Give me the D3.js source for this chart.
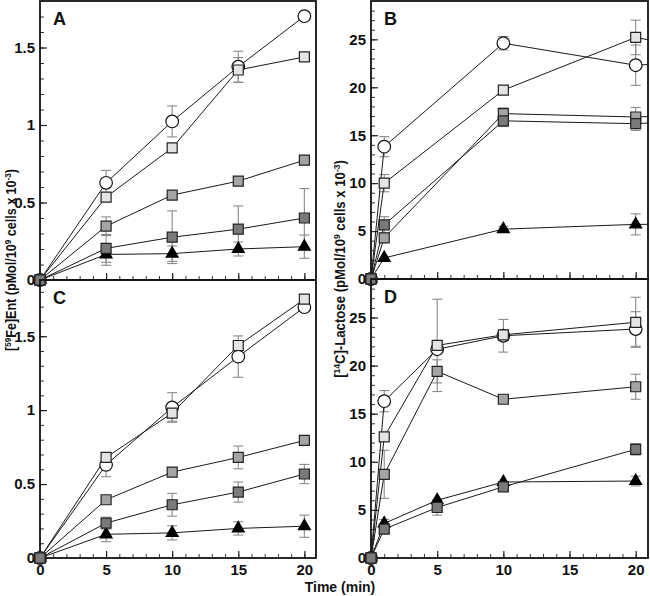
<!DOCTYPE html>
<html><head><meta charset="utf-8">
<script src="https://cdn.jsdelivr.net/npm/d3@7"></script>
<style>
body{margin:0;background:#fff}
svg{display:block}
text{font-family:"Liberation Sans Narrow","Arial Narrow","Liberation Sans",Arial,sans-serif;font-weight:bold;fill:#111}
</style>
</head><body>
<svg id="chart" width="650" height="596"></svg>
<script>
// ---------- data ----------
const timesAC = [0, 5, 10, 15, 20];
const timesB  = [0, 1, 10, 20, 30];
const timesD  = [0, 1, 5, 10, 20];

const seriesKeys = ["circle", "lightSquare", "graySquare", "darkSquare", "triangle"];

// Panel A: [59Fe]Ent
const aCircle = [0, 0.627, 1.023, 1.376, 1.702];
const aLight  = [0, 0.535, 0.852, 1.355, 1.439];
const aGray   = [0, 0.347, 0.548, 0.638, 0.773];
const aDark   = [0, 0.204, 0.276, 0.328, 0.400];
const aTri    = [0, 0.165, 0.170, 0.200, 0.215];
const aCircleErr = [0, 0.08, 0.10, 0.10, 0];
const aLightErr  = [0, 0, 0, 0.08, 0];
const aGrayErr   = [0, 0.06, 0, 0, 0];
const aDarkErr   = [0, 0.09, 0.17, 0.15, 0.19];
const aTriErr    = [0, 0.07, 0.05, 0.045, 0.075];

// Panel B: [14C]-Lactose
const bCircle = [0, 13.8, 24.6, 22.3, 23.1];
const bLight  = [0, 10.0, 19.7, 25.2, 22.6];
const bGray   = [0, 4.3, 17.25, 16.9, 17.4];
const bDark   = [0, 5.65, 16.5, 16.2, 16.9];
const bTri    = [0, 2.2, 5.2, 5.7, 5.7];
const bCircleErr = [0, 1.05, 0.7, 2.1, 0];
const bLightErr  = [0, 0.9, 0, 1.8, 0];
const bGrayErr   = [0, 0, 0.6, 1.0, 0];
const bDarkErr   = [0, 0.85, 0.6, 0.7, 0];
const bTriErr    = [0, 0, 0.3, 1.1, 0];

// Panel C: [59Fe]Ent
const cCircle = [0, 0.630, 1.018, 1.362, 1.696];
const cLight  = [0, 0.680, 0.980, 1.437, 1.750];
const cGray   = [0, 0.394, 0.581, 0.680, 0.795];
const cDark   = [0, 0.236, 0.360, 0.446, 0.568];
const cTri    = [0, 0.160, 0.170, 0.200, 0.215];
const cCircleErr = [0, 0.08, 0.10, 0.14, 0];
const cLightErr  = [0, 0, 0.055, 0, 0];
const cGrayErr   = [0, 0, 0, 0.077, 0];
const cDarkErr   = [0, 0.04, 0.077, 0.068, 0.065];
const cTriErr    = [0, 0.05, 0.048, 0.045, 0.075];

// Panel D: [14C]-Lactose
const dCircle = [0, 16.3, 21.7, 23.1, 23.8];
const dLight  = [0, 12.6, 22.1, 23.2, 24.5];
const dGray   = [0, 8.7, 19.4, 16.5, 17.8];
const dDark   = [0, 3.0, 5.25, 7.4, 11.3];
const dTri    = [0, 3.6, 6.0, 7.9, 8.0];
const dCircleErr = [0, 1.1, 0, 1.7, 1.8];
const dLightErr  = [0, 0, 4.8, 0, 2.6];
const dGrayErr   = [0, 2.5, 1.2, 0, 1.3];
const dDarkErr   = [0, 0, 0.8, 0, 0.6];
const dTriErr    = [0, 0.4, 0, 0, 0.5];

const xMajorTicks = [0, 5, 10, 15, 20];
const xMinorTicks = d3.range(0, 21, 1);
const feMajorTicks = [0, 0.5, 1, 1.5];
const feMinorTicks = d3.range(0, 19).map(i => +(i * 0.1).toFixed(1));
const lacMajorTicks = [0, 5, 10, 15, 20, 25];
const lacMinorTicks = d3.range(0, 29, 1);

const panelLetters = ["A", "B", "C", "D"];
const xTitle = "Time (min)";

// ---------- styles ----------
const styles = {
  circle:      {shape: d3.symbolCircle,   size: 125, fill: "#ffffff", stroke: "#111"},
  lightSquare: {shape: d3.symbolSquare,   size: 100, fill: "#e4e4e4", stroke: "#222"},
  graySquare:  {shape: d3.symbolSquare,   size: 100, fill: "#a4a4a4", stroke: "#222"},
  darkSquare:  {shape: d3.symbolSquare,   size: 100, fill: "#7a7a7a", stroke: "#222"},
  triangle:    {shape: d3.symbolTriangle, size: 62,  fill: "#000000", stroke: "#000"}
};
const drawOrder = ["triangle", "circle", "lightSquare", "graySquare", "darkSquare"];

const panels = [
  {letter: panelLetters[0], times: timesAC,
   vals: [aCircle, aLight, aGray, aDark, aTri], errs: [aCircleErr, aLightErr, aGrayErr, aDarkErr, aTriErr],
   x0: 40, x1: 316, xMax: 20.88, y0: 280, y1: 1, yMax: 1.8,
   major: feMajorTicks, minor: feMinorTicks, xLabels: false},
  {letter: panelLetters[1], times: timesB,
   vals: [bCircle, bLight, bGray, bDark, bTri], errs: [bCircleErr, bLightErr, bGrayErr, bDarkErr, bTriErr],
   x0: 371, x1: 648, xMax: 20.93, y0: 279, y1: 1, yMax: 29,
   major: lacMajorTicks, minor: lacMinorTicks, xLabels: false},
  {letter: panelLetters[2], times: timesAC,
   vals: [cCircle, cLight, cGray, cDark, cTri], errs: [cCircleErr, cLightErr, cGrayErr, cDarkErr, cTriErr],
   x0: 40, x1: 316, xMax: 20.88, y0: 558, y1: 280, yMax: 1.88,
   major: feMajorTicks, minor: feMinorTicks, xLabels: true},
  {letter: panelLetters[3], times: timesD,
   vals: [dCircle, dLight, dGray, dDark, dTri], errs: [dCircleErr, dLightErr, dGrayErr, dDarkErr, dTriErr],
   x0: 371, x1: 648, xMax: 20.93, y0: 558, y1: 279, yMax: 29,
   major: lacMajorTicks, minor: lacMinorTicks, xLabels: true}
];

const svg = d3.select("#chart");
const fmt = d => String(d);

panels.forEach((p, pi) => {
  const x = d3.scaleLinear().domain([0, p.xMax]).range([p.x0, p.x1]);
  const y = d3.scaleLinear().domain([0, p.yMax]).range([p.y0, p.y1]);
  const g = svg.append("g");

  const clipId = "clip" + pi;
  svg.append("clipPath").attr("id", clipId).append("rect")
    .attr("x", p.x0 - 12).attr("y", p.y1).attr("width", p.x1 - p.x0 + 12).attr("height", p.y0 - p.y1 + 12);

  // minor y ticks
  g.append("g").attr("transform", `translate(${p.x0},0)`)
    .call(d3.axisLeft(y).tickValues(p.minor.filter(v => v <= p.yMax)).tickSize(-4).tickSizeOuter(0).tickFormat(""))
    .call(s => s.select(".domain").remove())
    .call(s => s.selectAll("line").attr("stroke", "#333").attr("stroke-width", 1));
  // major y ticks
  g.append("g").attr("transform", `translate(${p.x0},0)`)
    .call(d3.axisLeft(y).tickValues(p.major).tickSize(-7).tickSizeOuter(0).tickPadding(5).tickFormat(fmt))
    .call(s => s.select(".domain").remove())
    .call(s => s.selectAll("line").attr("stroke", "#222").attr("stroke-width", 1.2))
    .call(s => s.selectAll("text").attr("font-size", 15).attr("font-family", null).attr("fill", "#111"));
  // minor x ticks
  g.append("g").attr("transform", `translate(0,${p.y0})`)
    .call(d3.axisBottom(x).tickValues(xMinorTicks).tickSize(-4).tickSizeOuter(0).tickFormat(""))
    .call(s => s.select(".domain").remove())
    .call(s => s.selectAll("line").attr("stroke", "#333").attr("stroke-width", 1));
  // major x ticks
  g.append("g").attr("transform", `translate(0,${p.y0})`)
    .call(d3.axisBottom(x).tickValues(xMajorTicks).tickSize(-7).tickSizeOuter(0).tickPadding(6)
      .tickFormat(p.xLabels ? fmt : ""))
    .call(s => s.select(".domain").remove())
    .call(s => s.selectAll("line").attr("stroke", "#222").attr("stroke-width", 1.2))
    .call(s => s.selectAll("text").attr("font-size", 15).attr("font-family", null).attr("fill", "#111"));

  // frame
  g.append("rect").attr("x", p.x0).attr("y", p.y1).attr("width", p.x1 - p.x0).attr("height", p.y0 - p.y1)
    .attr("fill", "none").attr("stroke", "#111").attr("stroke-width", 1.8);

  const series = seriesKeys.map((k, i) => ({
    key: k,
    pts: p.times.map((t, j) => ({t, v: p.vals[i][j], e: p.errs[i][j]}))
  }));

  // error bars
  const eg = g.append("g").attr("clip-path", `url(#${clipId})`).attr("stroke", "#8a8a8a").attr("stroke-width", 1.1);
  series.forEach(s => {
    s.pts.filter(d => d.e > 0 && d.t <= p.xMax).forEach(d => {
      const cx = x(d.t);
      eg.append("line").attr("x1", cx).attr("x2", cx).attr("y1", y(d.v - d.e)).attr("y2", y(d.v + d.e));
      [d.v - d.e, d.v + d.e].forEach(v => {
        eg.append("line").attr("x1", cx - 5).attr("x2", cx + 5).attr("y1", y(v)).attr("y2", y(v));
      });
    });
  });

  // lines
  const line = d3.line().x(d => x(d.t)).y(d => y(d.v));
  const lg = g.append("g").attr("clip-path", `url(#${clipId})`);
  series.forEach(s => {
    lg.append("path").attr("d", line(s.pts)).attr("fill", "none").attr("stroke", "#1a1a1a").attr("stroke-width", 1);
  });

  // markers
  const mg = g.append("g");
  drawOrder.forEach(k => {
    const s = series.find(ss => ss.key === k);
    const st = styles[k];
    const sym = d3.symbol().type(st.shape).size(st.size);
    mg.selectAll(null).data(s.pts.filter(d => d.t <= p.xMax)).enter().append("path")
      .attr("d", sym)
      .attr("transform", d => `translate(${x(d.t)},${y(d.v)})`)
      .attr("fill", st.fill).attr("stroke", st.stroke).attr("stroke-width", 1.2);
  });

  // panel letter
  g.append("text").attr("x", p.x0 + 13).attr("y", p.y1 + 24).attr("font-size", 18)
    .style("font-family", "'Liberation Sans',Arial,sans-serif").text(p.letter);
});

// axis titles
svg.append("text").attr("x", 340).attr("y", 592).attr("text-anchor", "middle").attr("font-size", 14).text(xTitle);

function yTitle(tx, ty, len, iso, elem) {
  const t = svg.append("text").attr("text-anchor", "middle").attr("font-size", 14);
  t.append("tspan").text("[");
  t.append("tspan").attr("font-size", 9).attr("dy", -5).text(iso);
  t.append("tspan").attr("dy", 5).text(elem + " (pMol/10");
  t.append("tspan").attr("font-size", 9).attr("dy", -5).text("9");
  t.append("tspan").attr("dy", 5).text(" cells x 10");
  t.append("tspan").attr("font-size", 9).attr("dy", -5).text("-3");
  t.append("tspan").attr("dy", 5).text(")");
  const w = t.node().getBBox().width;
  t.attr("transform", `translate(${tx},${ty}) rotate(-90) scale(${len / w},1)`);
}
yTitle(16, 260, 182, "59", "Fe]Ent");
yTitle(345, 269, 218, "14", "C]-Lactose");
</script>
</body></html>
